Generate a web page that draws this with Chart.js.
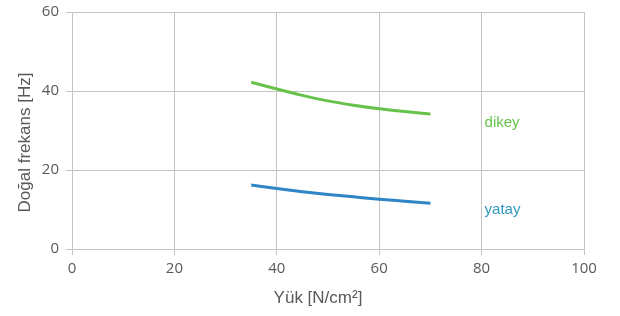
<!DOCTYPE html>
<html>
<head>
<meta charset="utf-8">
<script src="https://cdn.jsdelivr.net/npm/chart.js@4"></script>
<style>
  body { margin: 0; background: #fff; }
  #wrap { width: 620px; height: 316px; }
</style>
</head>
<body>
<div id="wrap"><canvas id="myChart"></canvas></div>
<script>
let load = [35, 40, 45, 50, 55, 60, 65, 70];
let dikey = [42.2, 40.5, 38.9, 37.5, 36.4, 35.5, 34.8, 34.2];
let yatay = [16.2, 15.3, 14.5, 13.8, 13.2, 12.6, 12.1, 11.6];
let xTicks = [0, 20, 40, 60, 80, 100];
let yTicks = [0, 20, 40, 60];
let seriesNames = ['dikey', 'yatay'];
let labelPos = [[80, 32], [80, 10]];
let xTitle = 'Yük [N/cm²]';
let yTitle = 'Doğal frekans [Hz]';

let green = '#66c24a';
let blue = '#2f86c6';
let gridColor = '#c4c4c4';
let textColor = '#595959';
let titleFont = '17px "Liberation Sans", Arial, sans-serif';

// etiketleri ve eksen başlıklarını yaz
let seriesLabels = {
  id: 'seriesLabels',
  afterDatasetsDraw(chart) {
    let ctx = chart.ctx;
    let xs = chart.scales.x, ys = chart.scales.y;
    ctx.save();
    ctx.font = '15px "Liberation Sans", Arial, sans-serif';
    ctx.textAlign = 'left';
    ctx.textBaseline = 'middle';
    let colors = [green, '#3397c0'];
    seriesNames.forEach(function (name, i) {
      ctx.fillStyle = colors[i];
      ctx.fillText(name, xs.getPixelForValue(labelPos[i][0]) + 3, ys.getPixelForValue(labelPos[i][1]));
    });

    ctx.fillStyle = textColor;
    ctx.font = titleFont;
    ctx.textAlign = 'center';
    ctx.fillText(xTitle, (xs.left + xs.right) / 2 - 10, 298);
    ctx.translate(25, (ys.top + ys.bottom) / 2 + 12);
    ctx.rotate(-Math.PI / 2);
    ctx.fillText(yTitle, 0, 0);
    ctx.restore();
  }
};

let chart = document.getElementById('myChart');
let lineConfig = {
  type: 'line',
  data: {
    datasets: [{
      label: seriesNames[0],
      data: load.map((x, i) => ({ x: x, y: dikey[i] })),
      borderColor: green,
      borderWidth: 3,
      pointRadius: 0,
      cubicInterpolationMode: 'monotone'
    }, {
      label: seriesNames[1],
      data: load.map((x, i) => ({ x: x, y: yatay[i] })),
      borderColor: blue,
      borderWidth: 3,
      pointRadius: 0,
      cubicInterpolationMode: 'monotone'
    }]
  },
  options: {
    responsive: true,
    maintainAspectRatio: false,
    animation: false,
    layout: { padding: { top: 12, right: 36, left: 0, bottom: 4 } },
    plugins: {
      legend: { display: false },
      tooltip: { enabled: false }
    },
    scales: {
      x: {
        type: 'linear',
        min: 0,
        max: 100,
        afterBuildTicks: function (scale) {
          scale.ticks = xTicks.map(v => ({ value: v }));
        },
        afterFit: function (scale) {
          scale.height = 63;
          scale.paddingLeft = 0;
          scale.paddingRight = 0;
        },
        grid: { color: gridColor, tickLength: 6, lineWidth: 1 },
        border: { color: gridColor },
        ticks: {
          color: textColor,
          font: { family: '"Open Sans", sans-serif', size: 15 },
          padding: 5,
          maxRotation: 0
        }
      },
      y: {
        min: 0,
        max: 60,
        afterBuildTicks: function (scale) {
          scale.ticks = yTicks.map(v => ({ value: v }));
        },
        afterFit: function (scale) {
          scale.width = 72;
          scale.paddingTop = 0;
          scale.paddingBottom = 0;
        },
        grid: { color: gridColor, tickLength: 6, lineWidth: 1 },
        border: { color: gridColor },
        ticks: {
          color: textColor,
          font: { family: '"Open Sans", sans-serif', size: 15 },
          padding: 7
        }
      }
    }
  },
  plugins: [seriesLabels]
};
let lineChart = new Chart(chart, lineConfig);
</script>
</body>
</html>
